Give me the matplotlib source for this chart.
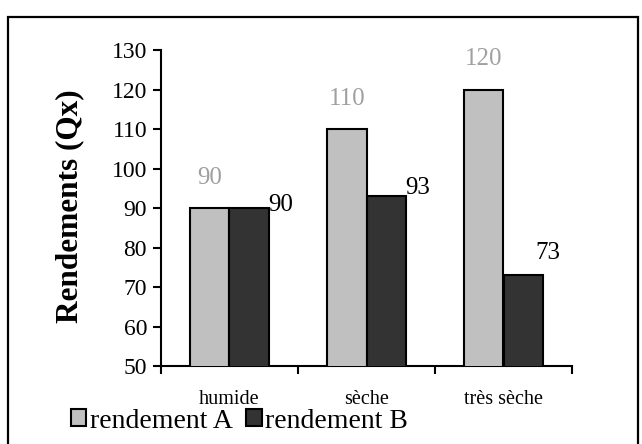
import numpy as np
import matplotlib
matplotlib.use('Agg')
import matplotlib.pyplot as plt
from matplotlib.patches import Rectangle

W, H = 642, 444
DPI = 100

categories = ['humide', 'sèche', 'très sèche']
rendement_a = [90, 110, 120]
rendement_b = [90, 93, 73]
series_names = ['rendement A', 'rendement B']
y_ticks = [50, 60, 70, 80, 90, 100, 110, 120, 130]

COLOR_A = '#c0c0c0'
COLOR_B = '#333333'
LABEL_A = '#a0a0a0'

plt.rcParams['font.family'] = ['Liberation Serif', 'DejaVu Serif']

fig = plt.figure(figsize=(W / DPI, H / DPI), dpi=DPI, facecolor='white')

# outer frame (runs off the bottom of the image like the original)
fig.patches.append(Rectangle((8 / W, -0.05), 630 / W, 1.05 - 17 / H,
                             transform=fig.transFigure, fill=False,
                             edgecolor='black', linewidth=1.6, clip_on=False))

ax = fig.add_axes([161 / W, 1 - 366 / H, 411 / W, 316 / H])

x = np.arange(len(categories))
bw = 0.285
bars_a = ax.bar(x - bw / 2, rendement_a, bw, color=COLOR_A, edgecolor='black',
                linewidth=1.5, zorder=3)
bars_b = ax.bar(x + bw / 2, rendement_b, bw, color=COLOR_B, edgecolor='black',
                linewidth=1.5, zorder=3)

ax.set_xlim(-0.5, len(categories) - 0.5)
ax.set_ylim(50, 130)
ax.set_yticks(y_ticks)
ax.tick_params(axis='y', direction='out', length=6, width=1.5, labelsize=17, pad=4)

# category labels between boundary ticks
ax.set_xticks(x)
ax.set_xticklabels(categories, fontsize=14.5)
ax.tick_params(axis='x', which='major', length=0, pad=17)
ax.set_xticks(np.arange(len(categories) + 1) - 0.5, minor=True)
ax.tick_params(axis='x', which='minor', direction='out', length=6, width=1.5)

for s in ['top', 'right']:
    ax.spines[s].set_visible(False)
for s in ['left', 'bottom']:
    ax.spines[s].set_linewidth(1.5)

# value labels (hand-placed like the source)
b_offsets = [(0, -6), (0, -2), (-5, 8)]
for bar, v in zip(bars_a, rendement_a):
    ax.annotate(f'{v}', (bar.get_x() + bar.get_width() / 2, v),
                xytext=(0, 14), textcoords='offset points',
                ha='center', va='bottom', fontsize=18, color=LABEL_A)
for bar, v, off in zip(bars_b, rendement_b, b_offsets):
    ax.annotate(f'{v}', (bar.get_x() + bar.get_width(), v),
                xytext=off, textcoords='offset points',
                ha='left', va='bottom', fontsize=18, color='black')

fig.text(70 / W, 1 - 206 / H, 'Rendements (Qx)', rotation=90, ha='center',
         va='center', fontsize=22.5, fontweight='bold')

leg = fig.legend([bars_a, bars_b], series_names, loc='center left',
                 bbox_to_anchor=(71 / W, 1 - 421 / H), ncol=2, frameon=False,
                 fontsize=20, handlelength=0.55, handleheight=0.55,
                 handletextpad=0.12, columnspacing=0.5, borderpad=0, borderaxespad=0)

fig.savefig('out.png', dpi=DPI, facecolor='white')
